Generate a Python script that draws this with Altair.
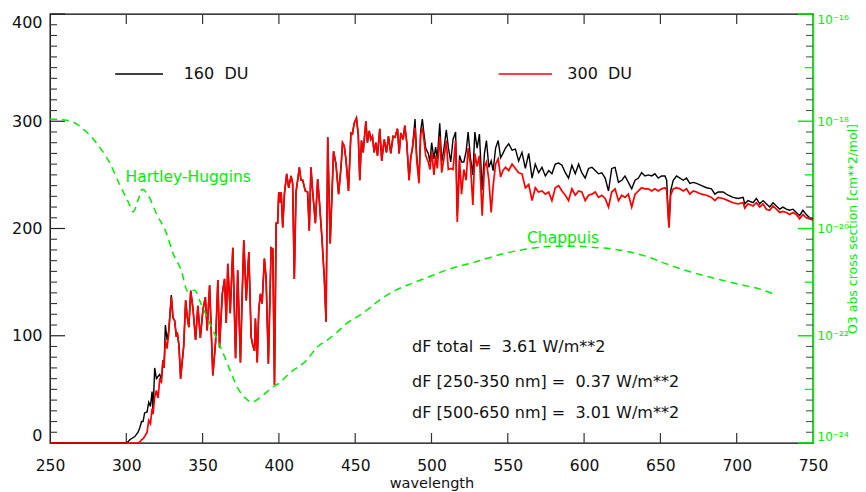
import altair as alt
import pandas as pd

# ---------------- data ----------------
# onset of the spectra (black = 160 DU, red = 300 DU)
wl_onset = [250.0, 299.0, 301.0, 302.3, 305.6, 307.7, 308.8, 310.0, 311.0, 312.0,
            313.6, 314.7, 315.8, 316.9, 317.5, 318.6, 319.7, 320.8, 321.9, 323.0,
            324.0, 324.7, 325.6, 326.7, 327.8, 329.5]
f160_onset = [0, 0, 1, 3, 6, 10, 14, 20, 20, 28,
              29, 38, 34, 48, 28, 70, 60, 62, 64, 59,
              77, 70, 110, 96, 105, 138]
f300_onset = [0, 0, 0, 0, 0, 0, 1, 3, 4, 6,
              10, 21, 18, 32, 27, 43, 49, 42, 59, 57,
              77, 70, 96, 88, 102, 136]

# UV / blue part where both spectra coincide
wl_uv = [330.6, 331.7, 332.8, 333.4, 334.5, 335.6, 336.7, 337.6, 338.9, 340.0,
         341.0, 342.2, 343.7, 345.4, 346.9, 348.5, 350.2, 351.8, 353.0, 354.6,
         356.7, 358.5, 360.0, 361.1, 362.9, 364.4, 365.5, 366.5, 368.1, 369.8,
         371.6, 373.0, 374.8, 375.9, 377.0, 378.6, 380.3, 381.8, 382.9, 384.0,
         384.6, 385.8, 386.8, 387.9, 389.0, 390.5, 391.6, 393.1, 394.9, 396.0,
         397.1, 398.2, 399.2, 399.9, 400.8, 401.5, 402.5, 403.6, 405.1, 406.4,
         408.0, 409.0, 410.1, 411.2, 412.3, 413.4, 414.5, 415.6, 417.3, 418.8,
         419.9, 421.0, 422.1, 423.9, 425.4, 426.5, 428.3, 429.8, 430.9, 432.0,
         433.6, 435.8, 437.4, 439.1, 440.7, 441.7, 442.8, 443.9, 445.6, 447.2,
         448.2, 449.3, 450.8, 452.0, 453.0, 454.1, 455.2, 457.0, 458.0, 459.2,
         460.2, 461.3, 462.4, 463.5, 464.6, 466.1, 467.4, 469.0, 470.5, 471.8,
         473.3, 474.8, 476.1, 477.7, 478.8, 479.9, 481.4, 482.5, 483.8, 485.3,
         486.4, 487.5]
flux_uv = [117, 114, 99, 103, 91, 60, 77, 90, 133, 117,
           108, 142, 125, 96, 128, 98, 124, 136, 105, 147,
           63, 94, 152, 89, 139, 153, 112, 167, 121, 182,
           79, 161, 75, 136, 189, 133, 178, 99, 91, 86,
           116, 75, 124, 139, 130, 172, 154, 74, 182, 181,
           54, 205, 205, 234, 224, 234, 201, 232, 251, 238,
           249, 242, 153, 234, 245, 257, 245, 245, 235, 234,
           198, 257, 235, 205, 246, 226, 189, 152, 113, 285,
           186, 272, 260, 232, 257, 280, 277, 265, 235, 289,
           288, 298, 303, 288, 245, 282, 271, 300, 280, 291,
           283, 286, 271, 280, 268, 293, 263, 283, 271, 286,
           270, 286, 285, 293, 270, 289, 283, 296, 280, 245,
           266, 275]

# visible part where the two spectra separate
wl_vis = [489.2, 490.3, 491.8, 492.9, 494.0, 495.1, 496.2, 497.9, 499.0, 500.1,
          501.6, 502.7, 503.8, 505.4, 506.7, 508.2, 509.7, 511.0, 512.6, 514.1,
          515.8, 516.9, 518.4, 519.7, 521.2, 522.7, 524.0, 525.5, 527.1, 528.4,
          529.9, 531.4, 533.2, 534.7, 536.0, 537.6, 539.1, 540.4, 542.0, 543.7,
          545.3, 546.8, 548.5, 550.6, 552.8, 555.0, 557.1, 559.3, 561.5, 563.7,
          565.9, 568.0, 570.2, 572.4, 574.6, 576.8, 578.9, 581.1, 583.3, 585.5,
          587.7, 589.8, 592.0, 594.2, 596.4, 598.5, 600.7, 602.9, 605.1, 607.3,
          609.4, 611.6, 613.8, 616.0, 618.1, 620.3, 622.5, 624.7, 626.8, 629.0,
          631.2, 633.4, 635.6, 637.7, 639.9, 642.1, 644.3, 646.4, 648.6, 650.8,
          653.0, 654.1, 655.6, 656.7, 658.4, 660.6, 662.8, 665.0, 667.1, 669.3,
          671.5, 673.7, 677.0, 680.2, 683.5, 685.7, 687.8, 691.1, 694.4, 697.6,
          700.9, 704.2, 705.3, 707.4, 710.7, 712.9, 715.1, 717.3, 719.4, 721.6,
          723.8, 726.0, 728.2, 730.3, 732.5, 734.7, 736.9, 739.1, 741.2, 743.4,
          745.6, 747.8, 750.0]
f160_vis = [302, 268, 245, 291, 302, 288, 275, 270, 262, 280,
            265, 276, 265, 298, 262, 275, 292, 276, 262, 283,
            290, 212, 268, 262, 262, 272, 290, 266, 250, 290,
            275, 288, 236, 270, 282, 257, 263, 254, 275, 282,
            266, 270, 275, 279, 273, 274, 263, 271, 256, 270,
            247, 260, 252, 257, 249, 254, 251, 260, 261, 259,
            252, 247, 259, 251, 260, 252, 247, 256, 257, 254,
            251, 252, 247, 235, 256, 257, 243, 245, 249, 243,
            237, 245, 247, 252, 249, 250, 249, 251, 247, 249,
            249, 245, 201, 235, 245, 249, 247, 245, 247, 242,
            243, 242, 240, 238, 237, 232, 234, 234, 231, 229,
            228, 229, 223, 226, 224, 228, 223, 226, 223, 220,
            224, 221, 218, 220, 218, 217, 218, 215, 212, 217,
            213, 210, 209]
f300_vis = [294, 264, 242, 288, 294, 282, 268, 262, 255, 272,
            250, 268, 256, 286, 252, 266, 282, 255, 256, 255,
            282, 206, 264, 232, 255, 245, 275, 260, 222, 270,
            258, 268, 212, 258, 262, 245, 215, 240, 260, 265,
            248, 254, 257, 254, 260, 256, 252, 251, 238, 241,
            226, 238, 234, 235, 232, 234, 226, 238, 240, 235,
            231, 226, 237, 231, 235, 234, 226, 231, 232, 234,
            229, 231, 228, 220, 234, 237, 226, 231, 229, 232,
            220, 232, 235, 238, 237, 237, 235, 237, 235, 237,
            238, 236, 201, 231, 237, 238, 237, 235, 237, 232,
            235, 234, 232, 231, 229, 226, 229, 228, 226, 224,
            223, 224, 219, 223, 221, 224, 220, 223, 218, 217,
            221, 218, 215, 216, 215, 213, 215, 213, 209, 213,
            210, 209, 208]

# O3 absorption cross section (log10 of cm**2/mol)
xsec_wl = [250, 261, 274, 280.5, 289.2, 295.8, 301.2, 304.5, 307.7, 310.6,
           314.3, 319.7, 326.3, 330.6, 336, 340.4, 344.8, 348, 352.4, 357.8,
           364.4, 369.8, 373.7, 378, 382, 387.3, 395.8, 400.3, 406.9, 418,
           425.2, 431.7, 438.2, 444.8, 451.3, 457.8, 465.7, 476.6, 487.6, 498.4,
           509.3, 529, 548.5, 565.7, 580, 596.4, 605, 618, 633.5, 642,
           653, 660, 670, 685.7, 700, 714, 725.8]
xsec_log10 = [-17.96, -17.98, -18.20, -18.41, -18.78, -19.19, -19.50, -19.69, -19.47, -19.27,
              -19.38, -19.72, -20.09, -20.46, -20.78, -21.18, -21.15, -21.34, -21.62, -21.96,
              -22.39, -22.77, -23.01, -23.16, -23.24, -23.16, -22.96, -22.88, -22.70, -22.46,
              -22.21, -22.08, -21.93, -21.76, -21.65, -21.52, -21.34, -21.15, -21.02, -20.90,
              -20.78, -20.62, -20.46, -20.37, -20.33, -20.33, -20.35, -20.38, -20.46, -20.53,
              -20.65, -20.72, -20.81, -20.93, -21.03, -21.12, -21.24]

# legend / annotations (double blanks kept as no-break spaces)
NB = "\u00a0"
legend_labels = ["160 " + NB + "DU", "300 " + NB + "DU"]
legend_x1 = [292.7, 544.0]
legend_x2 = [324.0, 579.0]
legend_text_x = [337.6, 589.0]
legend_y = [344, 344]

note_texts = ["dF total = " + NB + "3.61 W/m**2",
              "dF [250-350 nm] = " + NB + "0.37 W/m**2",
              "dF [500-650 nm] = " + NB + "3.01 W/m**2"]
note_x = [487.3, 487.3, 487.3]
note_y = [89.6, 57.0, 27.9]

band_texts = ["Hartley-Huggins", "Chappuis"]
band_x = [299.5, 562.6]
band_y = [247.7, 191.3]

x_ticks = [250, 300, 350, 400, 450, 500, 550, 600, 650, 700, 750]
left_major = [0, 100, 200, 300, 400]
right_major = [-24, -22, -20, -18, -16]

# ---------------- build chart ----------------
W, H = 763, 429
FONT = "DejaVu Sans"
GREEN = "#00ee00"
INK = "#111111"

spec = pd.DataFrame({
    "wl": wl_onset + wl_uv + wl_vis,
    "f160": f160_onset + flux_uv + f160_vis,
    "f300": f300_onset + flux_uv + f300_vis,
})
xs = pd.DataFrame({"wl": xsec_wl, "lx": xsec_log10})

x_scale = alt.Scale(domain=[250, 750], nice=False, zero=False)
yl_scale = alt.Scale(domain=[0, 400], nice=False, zero=False)
yr_scale = alt.Scale(domain=[-24, -16], nice=False, zero=False)

x_axis = alt.Axis(orient="bottom", values=x_ticks, title="wavelength", ticks=False, domain=False,
                  grid=False, labelFlush=False, labelPadding=15, labelFontSize=15.5,
                  labelFont=FONT, labelColor=INK, titleFont=FONT, titleFontSize=14.5,
                  titleFontWeight="normal", titleColor=INK, titlePadding=3)
yl_axis = alt.Axis(orient="left", values=left_major, ticks=False, domain=False,
                   grid=False, labelFlush=True, labelPadding=8, labelFontSize=16,
                   labelFont=FONT, labelColor=INK, title="")
label_expr = ("datum.value == -16 ? '10\u207b\u00b9\u2076' : "
              "datum.value == -18 ? '10\u207b\u00b9\u2078' : "
              "datum.value == -20 ? '10\u207b\u00b2\u2070' : "
              "datum.value == -22 ? '10\u207b\u00b2\u00b2' : '10\u207b\u00b2\u2074'")
yr_axis = alt.Axis(orient="right", values=right_major, labelExpr=label_expr, ticks=False,
                   domain=True, domainColor=GREEN, domainWidth=1.5, grid=False,
                   labelFlush=True, labelPadding=4, labelFontSize=12, labelFont=FONT,
                   labelColor=GREEN, title="O3 abs cross section [cm**2/mol]",
                   titleColor=GREEN, titleFont=FONT, titleFontSize=12.5,
                   titleFontWeight="normal", titleAngle=270, titleAlign="center",
                   titleBaseline="middle", titleX=39, titleY=H / 2)


def X(field):
    return alt.X(field, type="quantitative", scale=x_scale, axis=x_axis)


def YL(field):
    return alt.Y(field, type="quantitative", scale=yl_scale, axis=yl_axis)


def YR(field):
    return alt.Y(field, type="quantitative", scale=yr_scale, axis=yr_axis)


black = alt.Chart(spec).mark_line(color="black", strokeWidth=1.4).encode(x=X("wl"), y=YL("f160"))
red = alt.Chart(spec).mark_line(color="#ff0000", strokeWidth=1.7).encode(x=X("wl"), y=YL("f300"))

# inward ticks
lmaj = alt.Chart(pd.DataFrame({"v": left_major})).mark_rule(color="#222", strokeWidth=1.2).encode(
    y=YL("v"), x=alt.value(0), x2=alt.value(15))
lmin = alt.Chart(pd.DataFrame({"v": [v for v in range(10, 400, 10) if v % 100]})).mark_rule(
    color="#333", strokeWidth=1.1).encode(y=YL("v"), x=alt.value(0), x2=alt.value(7))
bt = alt.Chart(pd.DataFrame({"t": x_ticks[1:-1]})).mark_rule(color="#333", strokeWidth=1.2).encode(
    x=X("t"), y=alt.value(H), y2=alt.value(H - 10))
tt = alt.Chart(pd.DataFrame({"t": x_ticks[1:-1]})).mark_rule(color="#333", strokeWidth=1.2).encode(
    x=X("t"), y=alt.value(0), y2=alt.value(10))

# legend
leg = pd.DataFrame({"label": legend_labels, "x1": legend_x1, "x2": legend_x2,
                    "tx": legend_text_x, "y": legend_y})
leg_color = alt.Color("label:N", scale=alt.Scale(domain=legend_labels, range=["black", "#ff0000"]),
                      legend=None)
leg_lines = alt.Chart(leg).mark_rule(strokeWidth=1.5).encode(
    x=X("x1"), x2="x2:Q", y=YL("y"), color=leg_color)
leg_text = alt.Chart(leg).mark_text(align="left", baseline="middle", font=FONT, fontSize=16,
                                    color=INK).encode(x=X("tx"), y=YL("y"), text="label:N")

notes = alt.Chart(pd.DataFrame({"t": note_texts, "x": note_x, "y": note_y})).mark_text(
    align="left", baseline="middle", font=FONT, fontSize=16, color=INK).encode(
    x=X("x"), y=YL("y"), text="t:N")
bands = alt.Chart(pd.DataFrame({"t": band_texts, "x": band_x, "y": band_y})).mark_text(
    align="left", baseline="middle", font=FONT, fontSize=15.5, color=GREEN).encode(
    x=X("x"), y=YL("y"), text="t:N")

left = alt.layer(lmaj, lmin, bt, tt, black, red, leg_lines, leg_text, notes, bands)

green = alt.Chart(xs).mark_line(color=GREEN, strokeWidth=1.5, strokeDash=[7, 5],
                                interpolate="monotone").encode(x=X("wl"), y=YR("lx"))
r_major = alt.Chart(pd.DataFrame({"v": right_major})).mark_rule(color=GREEN, strokeWidth=1.5).encode(
    y=YR("v"), x=alt.value(W - 15), x2=alt.value(W))
r_mid = alt.Chart(pd.DataFrame({"v": [-23, -21, -19, -17]})).mark_rule(color=GREEN, strokeWidth=1.3).encode(
    y=YR("v"), x=alt.value(W - 8), x2=alt.value(W))
minor_r = [round(-24 + 0.2 * k, 1) for k in range(41) if k % 5 != 0]
r_minor = alt.Chart(pd.DataFrame({"v": minor_r})).mark_rule(color="#555", strokeWidth=1.1).encode(
    y=YR("v"), x=alt.value(W - 7), x2=alt.value(W))

right = alt.layer(r_minor, r_mid, r_major, green)

chart = alt.layer(left, right).resolve_scale(y="independent").properties(
    width=W, height=H,
    padding={"left": 42, "top": 6, "right": 45, "bottom": 49},
    autosize=alt.AutoSizeParams(type="none"),
).configure_view(stroke="black", strokeWidth=1.3)

chart.save("out.html", embed_options={"renderer": "svg", "actions": False})
